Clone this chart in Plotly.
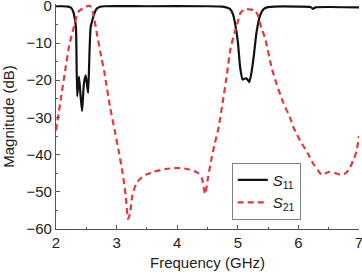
import plotly.graph_objects as go

freq_s11 = [2.0, 2.1, 2.2, 2.25, 2.29, 2.31, 2.33, 2.35, 2.38, 2.405, 2.43, 2.46, 2.49, 2.51, 2.53, 2.55, 2.57, 2.60, 2.63, 2.67, 2.72, 2.8, 3.5, 4.5,
            4.75, 4.83, 4.87, 4.92, 4.95, 5.0, 5.04, 5.08, 5.11, 5.14, 5.17, 5.19, 5.22, 5.26, 5.31, 5.37, 5.42, 5.48, 5.6, 6.0, 6.2, 6.24, 6.28, 6.5, 7.0]
s11 = [-0.1, -0.1, -0.2, -0.5, -1.8, -3.5, -6, -24.3, -19, -24, -28.3, -21, -18.7, -21, -23.4, -14, -6, -3.8, -2.2, -0.8, -0.3, -0.1, -0.1, -0.1,
       -0.2, -0.5, -0.8, -2.2, -4.3, -9.5, -16.7, -19.8, -19.6, -19.5, -20.0, -20.5, -18.5, -14, -7, -2.5, -1.0, -0.4, -0.2, -0.2, -0.3, -0.8, -0.4, -0.3, -0.4]

freq_s21 = [2.0, 2.08, 2.15, 2.22, 2.29, 2.37, 2.45, 2.53, 2.58, 2.62, 2.67, 2.73, 2.8, 2.89, 2.97, 3.04, 3.1, 3.15, 3.19, 3.22, 3.26, 3.32, 3.39, 3.5, 3.61, 3.8, 4.0, 4.15, 4.27, 4.35, 4.41, 4.46, 4.51, 4.57, 4.62,
            4.68, 4.75, 4.82, 4.88, 4.95, 5.0, 5.04, 5.1, 5.15, 5.22, 5.28, 5.33, 5.39, 5.45, 5.56, 5.64, 5.75, 5.86, 5.92, 6.03, 6.15, 6.25, 6.32, 6.38, 6.45, 6.52, 6.6, 6.69, 6.78, 6.85, 6.92, 6.96, 7.0]
s21 = [-33.5, -25, -17.6, -10.5, -6, -1.6, -0.6, 0, -0.3, -2.5, -7, -12.3, -18, -27, -33.6, -39.5, -45, -51, -57.3, -56, -51, -48, -46.5, -45.3, -44.6, -43.9, -43.6, -43.8, -44.4, -45, -46.5, -50.6, -46, -40.8, -37,
       -33, -26, -18.5, -11.5, -7, -4.3, -2, -1.1, -0.9, -1.0, -1.2, -2.5, -6, -8.7, -16.7, -21, -26, -30, -32.7, -36.3, -39.5, -42.6, -44.2, -45.4, -45.0, -44.6, -44.9, -45.4, -45.0, -43.5, -41, -39, -35]

fig = go.Figure()
fig.add_trace(go.Scatter(x=freq_s11, y=s11, mode="lines", name="<i>S</i><sub>11</sub>",
                         line=dict(color="#111111", width=2.2, shape="spline", smoothing=0.5)))
fig.add_trace(go.Scatter(x=freq_s21, y=s21, mode="lines", name="<i>S</i><sub>21</sub>",
                         line=dict(color="#e03a3e", width=2.2, dash="6px,4px", shape="spline", smoothing=0.6)))

axis_common = dict(showline=True, linecolor="#555555", linewidth=1.2, ticks="inside", ticklen=4,
                   tickcolor="#555555", tickwidth=1.2, showgrid=False, zeroline=False,
                   ticklabeloverflow="allow",
                   tickfont=dict(family="Liberation Sans, Arial", size=15, color="#222222"))

fig.update_xaxes(range=[2, 7], tickvals=[2, 3, 4, 5, 6, 7], mirror=False,
                 minor=dict(ticks="inside", ticklen=2, dtick=0.5, tickcolor="#555555"),
                 title=dict(text="Frequency (GHz)", standoff=7,
                            font=dict(family="Liberation Sans, Arial", size=15, color="#222222")),
                 **axis_common)
fig.update_yaxes(range=[-60, 0.5], tickvals=[0, -10, -20, -30, -40, -50, -60],
                 minor=dict(ticks="inside", ticklen=2, dtick=5, tickcolor="#555555"),
                 title=dict(text="Magnitude (dB)", standoff=10,
                            font=dict(family="Liberation Sans, Arial", size=15, color="#222222")),
                 **axis_common)

fig.update_layout(
    width=362, height=274,
    margin=dict(l=56, r=3, t=4, b=45, autoexpand=False),
    plot_bgcolor="white", paper_bgcolor="white",
    showlegend=True,
    legend=dict(x=0.58, y=0.295, xanchor="left", yanchor="top",
                bordercolor="#808080", borderwidth=1, bgcolor="white",
                font=dict(family="Liberation Sans, Arial", size=15, color="#222222"),
                itemwidth=30, tracegroupgap=0),
)

fig.write_html("out.html")
